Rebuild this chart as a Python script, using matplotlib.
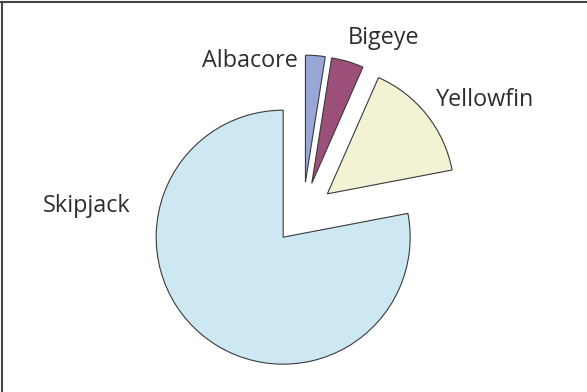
import matplotlib
matplotlib.use("Agg")
import matplotlib.pyplot as plt
from matplotlib.lines import Line2D

# Tuna catch composition by species (percent)
species = ["Albacore", "Bigeye", "Yellowfin", "Skipjack"]
share = [2.5, 4.1, 15.4, 78.0]
colors = ["#99a7d6", "#9c4f78", "#f3f2d4", "#cde8f3"]

W, H, DPI = 587, 392, 100
R_PX = 127.0            # pie radius in pixels
CX, CY = 303.0, 213.2   # pie centre in pixels (from top-left)

# Label anchors (left edge, baseline) in pixels
label_pos = {
    "Albacore": (202, 67),
    "Bigeye": (348, 44.5),
    "Yellowfin": (436, 105.5),
    "Skipjack": (43, 212),
}

plt.rcParams["font.family"] = ["Open Sans", "DejaVu Sans"]

fig = plt.figure(figsize=(W / DPI, H / DPI), dpi=DPI)
ax = fig.add_axes([0, 0, 1, 1])

ax.pie(share, colors=colors, startangle=90, counterclock=False,
       explode=[0.245] * len(share), radius=1.0, center=(0, 0),
       wedgeprops=dict(edgecolor="#3a3a3a", linewidth=0.8), frame=False)

ax.set_xlim(-CX / R_PX, (W - CX) / R_PX)
ax.set_ylim(-(H - CY) / R_PX, CY / R_PX)
ax.set_aspect("equal")
ax.axis("off")

for name in species:
    px, py = label_pos[name]
    ax.text((px - CX) / R_PX, (CY - py) / R_PX, name, ha="left",
            va="baseline", fontsize=16.8, color="#2e2e2e")

# Frame lines on the top and left edges
fig.add_artist(Line2D([1.5 / W, 1.5 / W], [0, 1 - 1.5 / H],
                      transform=fig.transFigure, color="#444444", lw=1.5))
fig.add_artist(Line2D([0, 1], [1 - 1.5 / H, 1 - 1.5 / H],
                      transform=fig.transFigure, color="#444444", lw=1.5))

fig.savefig("out.png", dpi=DPI)
